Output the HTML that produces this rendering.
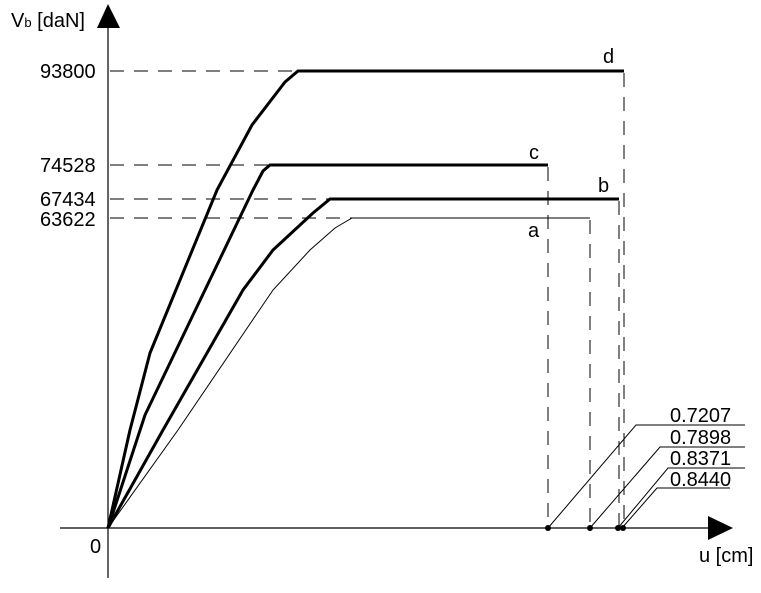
<!DOCTYPE html>
<html><head><style>body{margin:0;background:#fff}svg{display:block}</style></head><body>
<svg width="761" height="593" xmlns="http://www.w3.org/2000/svg" font-family="Liberation Sans, sans-serif" font-size="20">
<rect width="761" height="593" fill="#fff"/>
<g stroke="#000" fill="none">
<line x1="108" y1="22" x2="108" y2="578" stroke-width="1.2"/>
<line x1="60" y1="528" x2="712" y2="528" stroke-width="1.2"/>
<g stroke-dasharray="14,10" stroke-width="1">
<line x1="110" y1="71" x2="298" y2="71"/>
<line x1="110" y1="165" x2="270" y2="165"/>
<line x1="110" y1="199" x2="331" y2="199"/>
<line x1="110" y1="218" x2="352" y2="218"/>
<line x1="624" y1="73" x2="624" y2="528"/>
<line x1="548" y1="167" x2="548" y2="528"/>
<line x1="619" y1="201" x2="619" y2="528"/>
<line x1="590" y1="220" x2="590" y2="528"/>
</g>
<polyline stroke-width="3" points="108,528 130,430 150,353 217,190 252,125 285,82 298,71 624,71"/>
<polyline stroke-width="3" points="108,528 145,415 253,190 263,171 270,165 548,165"/>
<polyline stroke-width="3" points="108,528 163,430 243,290 273,250 313,213 330,199 619,199"/>
<polyline stroke-width="1" points="108,528 178,430 273,290 310,250 335,228 352,218 590,218"/>
<g stroke-width="1">
<polyline points="548,528 636,425 745,425"/>
<polyline points="590,528 660,447 745,447"/>
<polyline points="618,528 668,468 745,468"/>
<polyline points="622,528 657,488 730,488"/>
</g>
</g>
<polygon points="108,4 97,28 120,28" fill="#000"/>
<polygon points="733,528 708,516 708,540" fill="#000"/>
<g fill="#000"><circle cx="548" cy="528" r="3"/><circle cx="590" cy="528" r="3"/><circle cx="618" cy="528" r="3"/><circle cx="623" cy="528" r="3"/></g>
<g fill="#000">
<text x="11" y="27">V<tspan font-size="13">b</tspan> [daN]</text>
<text x="40" y="78">93800</text>
<text x="40" y="172">74528</text>
<text x="40" y="206">67434</text>
<text x="40" y="226">63622</text>
<text x="90" y="553">0</text>
<text x="699" y="562">u [cm]</text>
<text x="603" y="63">d</text>
<text x="529" y="159">c</text>
<text x="598" y="192">b</text>
<text x="528" y="237">a</text>
<text x="670" y="422">0.7207</text>
<text x="670" y="444">0.7898</text>
<text x="670" y="465">0.8371</text>
<text x="670" y="486">0.8440</text>
</g>
</svg>
</body></html>
